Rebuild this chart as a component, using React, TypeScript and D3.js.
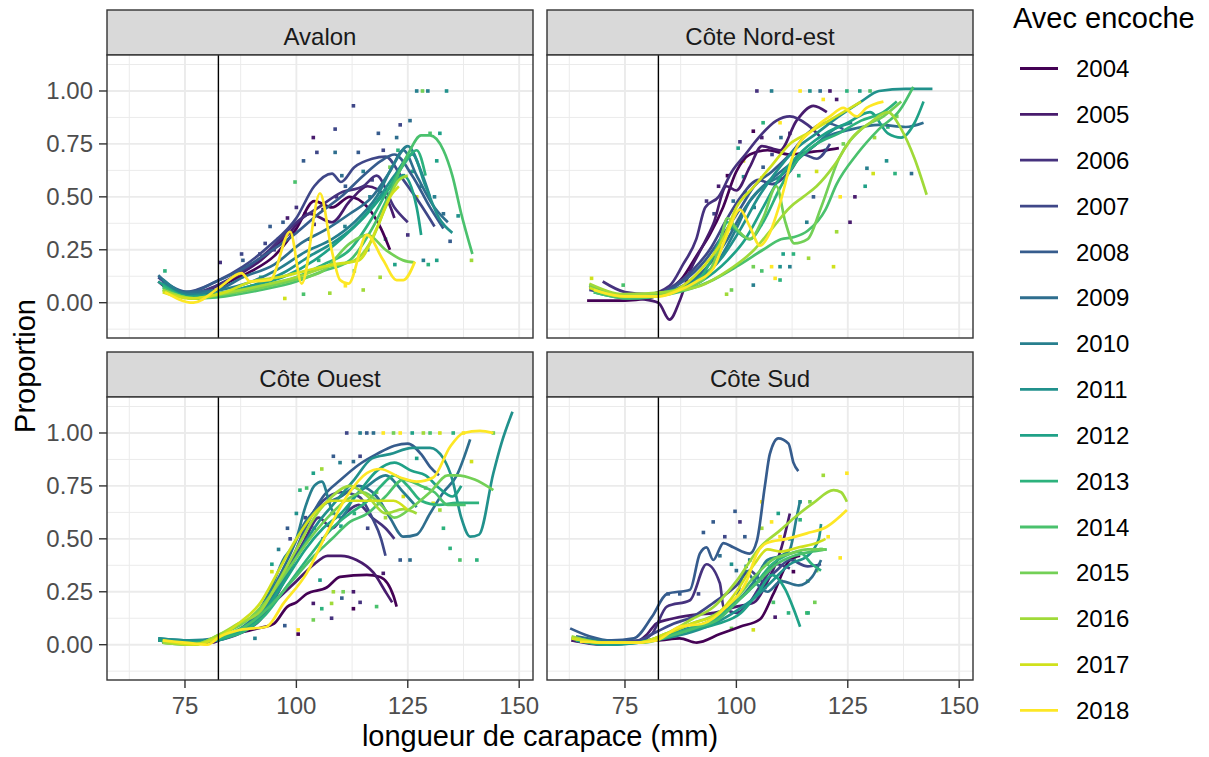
import React from "react";
import * as d3 from "d3";

// Proportion de homards avec encoche par longueur de carapace, par région et année

const years = ["2004", "2005", "2006", "2007", "2008", "2009", "2010", "2011", "2012", "2013", "2014", "2015", "2016", "2017", "2018"];
const regions = ["Avalon", "Côte Nord-est", "Côte Ouest", "Côte Sud"];
const xTicks = [75, 100, 125, 150];
const xMinor = [62.5, 87.5, 112.5, 137.5];
const yTicks = [0, 0.25, 0.5, 0.75, 1];
const yMinor = [-0.125, 0.125, 0.375, 0.625, 0.875, 1.125];
const legalSize = 82.5;

// one [mm, proportion] series per year, 2004 -> 2018
const avalonLines: number[][][] = [
  [[70, 0.08], [75, 0.03], [80, 0.04], [85, 0.1], [90, 0.15], [95, 0.22], [100, 0.35], [104, 0.48], [108, 0.45], [112, 0.5], [116, 0.45], [119, 0.35], [121, 0.25]],
  [[69, 0.1], [74, 0.04], [80, 0.06], [86, 0.12], [92, 0.2], [98, 0.32], [103, 0.42], [108, 0.38], [112, 0.48], [116, 0.55], [120, 0.5], [122, 0.4]],
  [[70, 0.09], [76, 0.04], [82, 0.08], [88, 0.15], [94, 0.25], [100, 0.38], [105, 0.45], [110, 0.52], [115, 0.55], [118, 0.6], [122, 0.45], [125, 0.38]],
  [[69, 0.12], [75, 0.05], [82, 0.1], [88, 0.17], [94, 0.27], [100, 0.4], [104, 0.55], [108, 0.61], [110, 0.57], [113, 0.64], [117, 0.68], [120, 0.69], [124, 0.58], [128, 0.46], [131, 0.36]],
  [[70, 0.1], [76, 0.05], [82, 0.1], [88, 0.16], [94, 0.24], [100, 0.33], [105, 0.42], [110, 0.5], [115, 0.6], [119, 0.67], [122, 0.7], [126, 0.6], [130, 0.45], [133, 0.35]],
  [[69, 0.13], [75, 0.05], [82, 0.06], [88, 0.12], [95, 0.18], [101, 0.28], [107, 0.35], [112, 0.42], [117, 0.5], [121, 0.62], [124, 0.72], [127, 0.6], [131, 0.45], [134, 0.38]],
  [[70, 0.11], [76, 0.04], [83, 0.06], [90, 0.1], [96, 0.16], [102, 0.24], [108, 0.3], [113, 0.38], [118, 0.5], [122, 0.66], [125, 0.74], [128, 0.62], [130, 0.5]],
  [[70, 0.09], [76, 0.03], [82, 0.04], [90, 0.08], [97, 0.14], [103, 0.22], [108, 0.28], [113, 0.36], [118, 0.48], [122, 0.6], [126, 0.7], [129, 0.55], [132, 0.4], [135, 0.33]],
  [[69, 0.1], [76, 0.03], [84, 0.05], [90, 0.08], [98, 0.13], [104, 0.2], [110, 0.3], [115, 0.4], [120, 0.52], [124, 0.6], [127, 0.45], [128, 0.32]],
  [[70, 0.08], [77, 0.02], [84, 0.04], [92, 0.08], [100, 0.12], [106, 0.18], [112, 0.25], [117, 0.4], [121, 0.55], [124, 0.65], [127, 0.72], [129, 0.6]],
  [[70, 0.07], [77, 0.02], [84, 0.03], [92, 0.06], [100, 0.1], [106, 0.15], [112, 0.2], [117, 0.35], [121, 0.52], [125, 0.7], [128, 0.79], [130, 0.79], [133, 0.72], [135, 0.6], [137, 0.42], [139.5, 0.23]],
  [[70, 0.06], [77, 0.02], [84, 0.04], [92, 0.07], [100, 0.11], [106, 0.15], [112, 0.28], [116, 0.32], [120, 0.25], [124, 0.2], [126.5, 0.19]],
  [[70, 0.06], [77, 0.02], [85, 0.05], [92, 0.08], [100, 0.12], [107, 0.17], [113, 0.2], [117, 0.3], [120, 0.45], [123, 0.58], [125, 0.6]],
  [[70, 0.05], [76, 0.02], [84, 0.05], [90, 0.1], [96, 0.12], [102, 0.15], [108, 0.18], [114, 0.2], [118, 0.35], [121, 0.5], [123, 0.55]],
  [[70.5, 0.05], [76.9, 0.0], [82.9, 0.075], [87.7, 0.14], [89.6, 0.1], [94.1, 0.107], [98.6, 0.335], [101.2, 0.09], [105.3, 0.517], [107.9, 0.25], [109.8, 0.107], [111.7, 0.09], [115.8, 0.32], [119.5, 0.2], [122.5, 0.107], [124, 0.107], [126.6, 0.194]],
];

const nordEstLines: number[][][] = [
  [[66.5, 0.01], [75, 0.01], [80, 0.02], [84, 0.05], [88, 0.12], [91, 0.22], [94, 0.32], [97, 0.45], [100, 0.62], [103, 0.7], [107, 0.72], [112, 0.7], [116, 0.71], [120, 0.72], [123, 0.73]],
  [[67, 0.07], [72, 0.04], [78, 0.02], [82.5, 0.0], [85, -0.08], [87.3, 0.01], [89.6, 0.15], [92, 0.25], [94.8, 0.37], [97.8, 0.55], [100, 0.53], [103, 0.64], [105.7, 0.74], [109.8, 0.72], [113.5, 0.86], [117.3, 0.93], [120.3, 0.9]],
  [[70, 0.1], [75, 0.05], [80, 0.04], [85, 0.08], [88, 0.18], [91, 0.3], [93, 0.45], [96, 0.5], [99, 0.62], [102, 0.7], [105, 0.78], [109, 0.86], [112, 0.88], [116, 0.84], [119, 0.78]],
  [[67, 0.06], [73, 0.04], [80, 0.03], [86, 0.08], [90, 0.15], [94, 0.25], [98, 0.4], [101, 0.5], [105, 0.58], [108, 0.56], [112, 0.62], [115, 0.7], [118, 0.68], [121, 0.75]],
  [[68, 0.07], [75, 0.03], [82, 0.04], [88, 0.1], [93, 0.2], [97, 0.32], [101, 0.45], [104, 0.55], [108, 0.62], [112, 0.7], [116, 0.8], [120, 0.85], [124, 0.82]],
  [[67, 0.08], [74, 0.03], [82, 0.04], [88, 0.08], [93, 0.16], [98, 0.3], [102, 0.45], [106, 0.55], [110, 0.62], [115, 0.7], [120, 0.78], [126, 0.82], [132, 0.84], [138, 0.83], [142, 0.85]],
  [[68, 0.07], [75, 0.03], [83, 0.04], [90, 0.1], [96, 0.2], [100, 0.35], [103, 0.48], [106, 0.55], [110, 0.6], [114, 0.68], [118, 0.75], [122, 0.82], [126, 0.85]],
  [[68, 0.06], [76, 0.03], [84, 0.05], [91, 0.1], [97, 0.22], [101, 0.35], [105, 0.5], [109, 0.62], [113, 0.72], [118, 0.8], [123, 0.88], [128, 0.95], [132, 1.0], [138, 1.01], [144, 1.01]],
  [[68, 0.05], [76, 0.02], [84, 0.04], [92, 0.1], [98, 0.2], [102, 0.3], [106, 0.45], [110, 0.6], [115, 0.72], [120, 0.8], [125, 0.85], [130, 0.9], [134, 0.8], [137, 0.78], [140, 0.85], [142, 0.95]],
  [[68, 0.06], [76, 0.03], [85, 0.05], [92, 0.12], [96, 0.28], [98, 0.38], [100, 0.34], [103, 0.3], [106, 0.38], [110, 0.55], [114, 0.68], [118, 0.75], [123, 0.8], [128, 0.86], [133, 0.9], [136, 0.95]],
  [[68, 0.05], [76, 0.02], [85, 0.04], [94, 0.1], [100, 0.17], [106, 0.25], [110, 0.3], [113, 0.31], [116, 0.34], [120, 0.44], [122.5, 0.56], [127, 0.7], [132, 0.82], [136.7, 0.91], [139.7, 1.02]],
  [[67, 0.08], [75, 0.03], [84, 0.05], [92, 0.1], [96, 0.25], [98, 0.4], [100, 0.35], [103, 0.3], [106, 0.4], [109, 0.55], [111, 0.38], [113, 0.28], [116, 0.3], [119, 0.45], [123, 0.68], [128, 0.82], [133, 0.88], [137, 0.95]],
  [[67, 0.09], [75, 0.04], [84, 0.05], [92, 0.08], [98, 0.15], [104, 0.25], [108, 0.35], [112, 0.45], [115, 0.5], [118, 0.55], [122, 0.65], [126, 0.78], [130, 0.85], [134, 0.9], [137, 0.82], [140, 0.68], [142.7, 0.51]],
  [[67, 0.07], [74, 0.03], [82, 0.03], [88, 0.08], [93, 0.18], [97, 0.3], [100, 0.45], [104, 0.55], [108, 0.65], [112, 0.75], [116, 0.8], [120, 0.85], [124, 0.9], [128, 0.95]],
  [[68, 0.06], [75, 0.03], [82.5, 0.03], [87.3, 0.06], [91, 0.1], [94.8, 0.16], [97.5, 0.3], [100.8, 0.44], [103, 0.36], [105.3, 0.27], [107.5, 0.33], [109.8, 0.47], [112.8, 0.7], [117.3, 0.82], [121, 0.88], [124, 0.92], [127, 0.88], [129.2, 0.92], [133, 0.95]],
];

const ouestLines: number[][][] = [
  [[69, 0.02], [75, 0.02], [80, 0.01], [84, 0.04], [88, 0.06], [92, 0.08], [95, 0.1], [98, 0.18], [100, 0.2], [102.3, 0.24], [106.8, 0.27], [109.8, 0.32], [115.8, 0.33], [118.8, 0.32], [121.8, 0.23], [122.5, 0.18]],
  [[70, 0.01], [76, 0.01], [81, 0.01], [85, 0.05], [90, 0.1], [95, 0.2], [100, 0.3], [104, 0.38], [107, 0.42], [110, 0.42], [113.5, 0.4], [117.3, 0.34], [120.3, 0.24], [121.5, 0.2]],
  [[70, 0.01], [76, 0.01], [82, 0.02], [87, 0.05], [92, 0.12], [96, 0.25], [99, 0.38], [102, 0.5], [105, 0.6], [108, 0.55], [111, 0.62], [114, 0.66], [117, 0.6], [120, 0.55], [122, 0.5]],
  [[70, 0.01], [77, 0.01], [82, 0.03], [87, 0.06], [92, 0.15], [96, 0.28], [100, 0.45], [103, 0.6], [106, 0.68], [110, 0.72], [114, 0.7], [117, 0.6], [119, 0.5], [120, 0.42]],
  [[70, 0.02], [77, 0.01], [83, 0.04], [88, 0.08], [93, 0.18], [98, 0.35], [102, 0.55], [106, 0.7], [110, 0.78], [114, 0.85], [118, 0.9], [122, 0.94], [125, 0.95], [128, 0.9], [130, 0.84], [132, 0.8]],
  [[69, 0.02], [76, 0.01], [82, 0.03], [88, 0.08], [93, 0.2], [98, 0.4], [102, 0.58], [106, 0.66], [110, 0.7], [114, 0.75], [118, 0.7], [121, 0.6], [124, 0.51], [127, 0.52], [130, 0.62], [133, 0.72], [136, 0.8], [139, 0.97]],
  [[69, 0.03], [76, 0.02], [82, 0.03], [86, 0.06], [90, 0.12], [94, 0.25], [97, 0.4], [100, 0.5], [102, 0.65], [104, 0.75], [105.7, 0.77], [107.9, 0.64], [110, 0.6], [113, 0.7], [116, 0.75], [120, 0.8], [124, 0.72], [127, 0.65]],
  [[69, 0.03], [76, 0.02], [82, 0.02], [87, 0.06], [92, 0.14], [97, 0.3], [101, 0.45], [105, 0.58], [109, 0.68], [113, 0.78], [117, 0.88], [121, 0.9], [126, 0.93], [130, 0.93], [133, 0.88], [135, 0.78], [137, 0.6], [139, 0.51], [141, 0.52], [144.2, 0.81], [146, 0.95], [148.5, 1.1]],
  [[69, 0.02], [76, 0.01], [82, 0.02], [88, 0.07], [93, 0.16], [98, 0.32], [102, 0.45], [106, 0.55], [110, 0.62], [114, 0.72], [118, 0.82], [122, 0.86], [126, 0.82], [129, 0.8], [132, 0.74], [135, 0.7], [137, 0.75]],
  [[70, 0.01], [77, 0.01], [83, 0.03], [88, 0.06], [93, 0.14], [98, 0.28], [103, 0.42], [108, 0.55], [112, 0.62], [116, 0.68], [119, 0.75], [122, 0.8], [125, 0.75], [128, 0.68], [132, 0.66], [136, 0.67], [141, 0.67]],
  [[70, 0.01], [77, 0.0], [83, 0.04], [88, 0.08], [94, 0.18], [99, 0.3], [104, 0.42], [108, 0.5], [112, 0.58], [116, 0.62], [120, 0.7], [124, 0.78], [128, 0.75], [131, 0.72], [134, 0.66], [138, 0.66]],
  [[70, 0.01], [77, 0.0], [83, 0.05], [88, 0.1], [93, 0.2], [98, 0.35], [103, 0.5], [107, 0.6], [111, 0.68], [115, 0.72], [119, 0.66], [122, 0.6], [126, 0.65], [130, 0.72], [134, 0.8], [136, 0.8], [140, 0.78], [144.2, 0.73]],
  [[70, 0.01], [77, 0.0], [82, 0.04], [87, 0.1], [92, 0.16], [96, 0.3], [100, 0.45], [104, 0.6], [108, 0.7], [112, 0.75], [116, 0.7], [120, 0.62], [124, 0.64], [127, 0.62]],
  [[70, 0.02], [77, 0.0], [82, 0.03], [87, 0.1], [92, 0.2], [96, 0.35], [100, 0.5], [104, 0.62], [108, 0.68], [112.7, 0.68], [117, 0.68], [121.8, 0.68], [124.8, 0.64]],
  [[70, 0.02], [75, 0.01], [80, 0.0], [83, 0.04], [87.4, 0.07], [93.3, 0.085], [97.1, 0.195], [102.3, 0.337], [106.8, 0.526], [111.3, 0.7], [115.8, 0.81], [118.8, 0.83], [123.3, 0.79], [127, 0.77], [130.7, 0.79], [134.5, 0.935], [137.5, 1.0], [141.2, 1.01], [144.2, 1.0]],
];

const sudLines: number[][][] = [
  [[63, 0.02], [70, 0.01], [76, 0.01], [80, 0.02], [82.1, 0.02], [87.3, 0.03], [91.1, 0.01], [96.3, 0.05], [100.8, 0.085], [105.3, 0.12], [108.3, 0.24], [112, 0.4], [114.3, 0.42]],
  [[63, 0.02], [70, 0.0], [77, 0.01], [80, 0.05], [82, 0.1], [85, 0.12], [90, 0.14], [95, 0.15], [100, 0.18], [104, 0.2], [107, 0.3], [110, 0.45], [112, 0.62]],
  [[64, 0.03], [70, 0.01], [77, 0.01], [81, 0.05], [84.4, 0.18], [89.6, 0.21], [93.3, 0.38], [96.3, 0.29], [97.1, 0.18], [100, 0.15], [103, 0.2], [106, 0.3], [109, 0.38], [112, 0.36]],
  [[63, 0.03], [70, 0.01], [78, 0.02], [82, 0.06], [86, 0.1], [90, 0.13], [95, 0.2], [100, 0.28], [103, 0.35], [106, 0.3], [109, 0.35], [112, 0.4], [116, 0.37], [119, 0.38]],
  [[62.7, 0.077], [67, 0.04], [72, 0.02], [77, 0.03], [81, 0.13], [84.4, 0.24], [89.6, 0.26], [91.8, 0.43], [93.3, 0.46], [94.8, 0.4], [97.1, 0.48], [99.3, 0.46], [103, 0.43], [104.6, 0.49], [106.4, 0.75], [107.5, 0.9], [109.4, 0.975], [111.7, 0.95], [112.8, 0.86], [113.9, 0.82]],
  [[64, 0.04], [70, 0.02], [77, 0.01], [82, 0.03], [88, 0.07], [93, 0.1], [97, 0.15], [100, 0.22], [102, 0.35], [104, 0.3], [107, 0.25], [110, 0.3], [114, 0.28], [117, 0.32], [119, 0.4]],
  [[64, 0.03], [70, 0.01], [78, 0.01], [84, 0.04], [90, 0.08], [95, 0.12], [100, 0.2], [104, 0.3], [107, 0.4], [110, 0.42], [112, 0.45], [113.5, 0.6], [114.3, 0.68]],
  [[64, 0.02], [71, 0.0], [78, 0.01], [84, 0.03], [90, 0.06], [95, 0.1], [100, 0.16], [104, 0.22], [108, 0.3], [112, 0.38], [116, 0.42], [118.5, 0.5], [119, 0.57]],
  [[64, 0.02], [71, 0.0], [78, 0.01], [84, 0.04], [90, 0.07], [96, 0.1], [101, 0.15], [105, 0.25], [108, 0.33], [111, 0.26], [113, 0.16], [114.3, 0.085]],
  [[64, 0.03], [71, 0.01], [78, 0.01], [84, 0.04], [90, 0.08], [95, 0.12], [100, 0.2], [104, 0.28], [108, 0.38], [111, 0.42], [114, 0.44], [117, 0.38], [119, 0.35]],
  [[64, 0.03], [71, 0.01], [79, 0.01], [85, 0.04], [91, 0.08], [96, 0.12], [101, 0.22], [105, 0.3], [109, 0.38], [113, 0.42], [117, 0.44], [120.3, 0.45]],
  [[63, 0.03], [70, 0.01], [78, 0.01], [84, 0.05], [90, 0.1], [95, 0.14], [100, 0.22], [104, 0.32], [108, 0.4], [112, 0.43], [116, 0.45], [120, 0.45]],
  [[63, 0.04], [70, 0.01], [78, 0.01], [84, 0.05], [90, 0.12], [95, 0.18], [100, 0.3], [105.3, 0.46], [109.8, 0.54], [113, 0.6], [117.3, 0.67], [121.8, 0.73], [123.5, 0.72], [124.8, 0.675]],
  [[63, 0.03], [70, 0.01], [78, 0.01], [84, 0.05], [90, 0.1], [96, 0.15], [100, 0.25], [104, 0.38], [107, 0.45], [110, 0.44], [114, 0.46], [118, 0.48], [120, 0.5]],
  [[64.9, 0.014], [72, 0.01], [78, 0.01], [82.1, 0.02], [87.3, 0.085], [92.6, 0.1], [97.8, 0.18], [102.3, 0.3], [104.6, 0.43], [106.8, 0.48], [111.3, 0.5], [115.8, 0.526], [120.3, 0.557], [124.8, 0.636]],
];

// observed proportions: [mm, proportion, year index]
const avalonPoints: number[][] = [
  [127, 1.0, 6], [128.3, 1.0, 11], [129.5, 1.0, 6], [133.7, 1.0, 7], [112.8, 0.93, 3], [108.7, 0.82, 3], [103.8, 0.78, 1],
  [118.4, 0.8, 4], [122.5, 0.78, 5], [125.5, 0.86, 5], [123.3, 0.84, 3], [132.2, 0.8, 8], [130, 0.8, 10], [104.6, 0.71, 3],
  [101.6, 0.67, 4], [108.7, 0.71, 5], [113.9, 0.71, 4], [119.5, 0.72, 3], [122.8, 0.72, 9], [131.5, 0.67, 8], [99.7, 0.57, 10],
  [110.2, 0.6, 5], [116.5, 0.5, 6], [121, 0.64, 11], [134.5, 0.29, 4], [136.3, 0.41, 7], [131.5, 0.2, 8], [128.5, 0.2, 6],
  [129.6, 0.18, 9], [139.3, 0.2, 12], [94.1, 0.36, 4], [100, 0.45, 2], [91.8, 0.23, 3], [87.7, 0.23, 3], [82.9, 0.19, 2],
  [70.5, 0.15, 9], [107.5, 0.045, 12], [97.4, 0.02, 13], [101.6, 0.04, 10], [118.8, 0.12, 12], [122.1, 0.18, 8], [110.9, 0.36, 6],
  [96, 0.3, 5], [98, 0.4, 1], [105, 0.2, 9], [113, 0.15, 11], [116, 0.25, 6], [120, 0.3, 9], [86, 0.05, 11], [90, 0.08, 13],
  [92, 0.12, 9], [103, 0.3, 3], [111, 0.08, 14], [115, 0.06, 12], [125, 0.32, 2], [127, 0.5, 13], [124, 0.6, 6],
  [88, 0.2, 4], [93, 0.28, 3], [95, 0.25, 2], [97, 0.38, 4], [99, 0.33, 6], [102, 0.42, 3], [104, 0.37, 2], [106, 0.44, 1],
  [109, 0.5, 2], [111, 0.55, 4], [115, 0.62, 6], [117, 0.58, 3], [126, 0.62, 8], [128, 0.55, 7], [131, 0.5, 6], [133, 0.42, 5],
];

const nordEstPoints: number[][] = [
  [104.6, 1.0, 2], [107.9, 1.0, 6], [114.3, 1.0, 14], [116.5, 1.0, 7], [118.8, 1.0, 5], [121, 1.0, 1], [124.8, 1.0, 9],
  [127.7, 1.0, 8], [130, 1.0, 10], [119.5, 0.96, 14], [122.5, 0.96, 1], [106, 0.85, 9], [109.8, 0.85, 14], [103.8, 0.81, 0],
  [100.8, 0.76, 2], [105.7, 0.78, 1], [100.4, 0.73, 8], [101.6, 0.67, 13], [101.6, 0.595, 7], [105.7, 0.59, 14], [109.8, 0.59, 6],
  [93.3, 0.48, 2], [99.3, 0.48, 5], [117.3, 0.5, 4], [123.3, 0.5, 14], [126.6, 0.5, 1], [128.9, 0.55, 8], [129.3, 0.635, 6],
  [130.7, 0.61, 13], [135.6, 0.61, 9], [139.3, 0.61, 5], [133.7, 0.67, 7], [125.5, 0.38, 1], [115.8, 0.38, 6], [122.5, 0.335, 12],
  [103.8, 0.17, 11], [105.7, 0.15, 10], [107.9, 0.17, 14], [109.8, 0.17, 7], [112, 0.17, 6], [116.2, 0.21, 12], [121.8, 0.17, 13],
  [110.5, 0.23, 8], [112.8, 0.23, 9], [103.8, 0.083, 6], [109.8, 0.107, 9], [108.7, 0.115, 14], [97.8, 0.04, 12], [98.9, 0.06, 11],
  [67.5, 0.115, 13], [74.6, 0.083, 10],
  [95, 0.42, 3], [96, 0.55, 1], [98, 0.6, 0], [99, 0.35, 7], [102, 0.52, 9], [104, 0.45, 6], [106, 0.64, 4], [108, 0.7, 3],
  [110, 0.78, 5], [112, 0.8, 2], [114, 0.6, 9], [118, 0.62, 13], [120, 0.72, 8], [124, 0.75, 11], [131, 0.78, 12], [134, 0.83, 9],
  [136, 0.88, 11],
];

const ouestPoints: number[][] = [
  [111.3, 1, 3], [114.3, 1, 6], [115.8, 1, 4], [117.3, 1, 5], [119.5, 1, 14], [121.8, 1, 11], [123.3, 1, 14], [126, 1, 8],
  [128.5, 1, 12], [130, 1, 10], [132.2, 1, 13], [135.2, 1, 9], [137.5, 1, 14], [144.2, 1, 11],
  [108.3, 0.89, 4], [109.8, 0.86, 6], [112.8, 0.865, 5], [114.3, 0.89, 3], [105.7, 0.83, 12], [103.8, 0.81, 8], [102.3, 0.74, 10],
  [100.8, 0.73, 9], [98.6, 0.5, 3], [101.6, 0.51, 14], [94.5, 0.38, 8], [94.5, 0.345, 13], [105.3, 0.305, 8], [108.3, 0.25, 12],
  [110.5, 0.25, 11], [112.8, 0.25, 1], [110.2, 0.22, 4], [107.9, 0.195, 12], [103.8, 0.195, 1], [105.7, 0.17, 9], [103.8, 0.117, 11],
  [107.9, 0.125, 2], [112.8, 0.17, 0], [114.3, 0.2, 2], [118, 0.18, 10], [119.5, 0.337, 1], [123.3, 0.4, 4], [125.5, 0.4, 5],
  [134.5, 0.455, 9], [136.7, 0.4, 10], [140.5, 0.4, 9], [139.3, 0.865, 13], [132.2, 0.636, 12], [130.7, 0.668, 13],
  [100.4, 0.07, 14], [100.4, 0.05, 0], [97.4, 0.09, 4], [90.7, 0.03, 6],
  [96, 0.45, 6], [98, 0.55, 4], [100, 0.62, 7], [102, 0.6, 3], [104, 0.55, 5], [106, 0.5, 2], [108, 0.62, 10], [110, 0.56, 8],
  [113, 0.62, 9], [116, 0.55, 3], [118, 0.72, 11], [120, 0.6, 12], [124, 0.7, 13], [127, 0.88, 8], [129, 0.74, 11], [133, 0.55, 9],
];

const sudPoints: number[][] = [
  [124.8, 0.81, 14], [119.5, 0.8, 12], [105.7, 0.675, 14], [116.5, 0.675, 11], [114.3, 0.675, 7], [99.7, 0.63, 4], [109.4, 0.62, 8],
  [107.9, 0.58, 14], [100.8, 0.58, 2], [94.8, 0.58, 4], [114.3, 0.59, 9], [105.7, 0.55, 12], [92.6, 0.53, 4], [97.4, 0.51, 3],
  [101.9, 0.51, 4], [109.8, 0.51, 14], [120.6, 0.51, 14], [123.3, 0.41, 14], [98.9, 0.38, 7], [96.3, 0.42, 5], [102.2, 0.37, 7],
  [112.8, 0.345, 0], [106.4, 0.27, 3], [108.3, 0.2, 10], [117.6, 0.2, 11], [108.7, 0.13, 1], [111.7, 0.15, 9], [115.8, 0.15, 10],
  [103.8, 0.07, 13], [95.2, 0.117, 2], [91.5, 0.24, 3], [84.7, 0.24, 4], [87.3, 0.24, 4], [98.9, 0.077, 11], [116.1, 0.15, 9],
  [100, 0.35, 5], [103, 0.4, 6], [105, 0.3, 8], [107, 0.38, 10], [110, 0.3, 11], [112, 0.5, 7], [113, 0.4, 9], [116, 0.3, 10],
  [118, 0.35, 11], [119, 0.45, 10],
];

const regionLines = [avalonLines, nordEstLines, ouestLines, sudLines];
const regionPoints = [avalonPoints, nordEstPoints, ouestPoints, sudPoints];

const FONT = "'Liberation Sans', Arial, sans-serif";
const panelW = 426;
const panelH = 283;
const stripH = 45;
const colX = [107, 547];
const rowY = [55, 397];

const color = (i: number) => d3.interpolateViridis(i / (years.length - 1));

const App: React.FC = () => {
  const x0 = d3.scaleLinear().domain([57.5, 57.5 + panelW / 4.456]).range([0, panelW]);
  const y0 = d3.scaleLinear().domain([1.17 - panelH / 211.7, 1.17]).range([panelH, 0]);
  const line = d3
    .line<number[]>()
    .x((d) => x0(d[0]))
    .y((d) => y0(d[1]))
    .curve(d3.curveMonotoneX);

  const legendY = (i: number) => 68.5 + i * 45.85;

  return (
    <svg width={1209} height={757} style={{ position: "absolute", left: 0, top: 0, background: "#fff" }} fontFamily={FONT}>
      <defs>
        <clipPath id="panelClip">
          <rect x={0} y={0} width={panelW} height={panelH} />
        </clipPath>
      </defs>
      {regions.map((name, r) => {
        const px = colX[r % 2];
        const py = rowY[Math.floor(r / 2)];
        const bottomRow = r >= 2;
        const leftCol = r % 2 === 0;
        return (
          <g key={name} transform={`translate(${px},${py})`}>
            {/* strip */}
            <rect x={0} y={-stripH} width={panelW} height={stripH} fill="#d9d9d9" stroke="#333333" strokeWidth={1.4} />
            <text x={panelW / 2} y={-stripH + 35} textAnchor="middle" fontSize={24} fill="#1a1a1a">
              {name}
            </text>
            <rect x={0} y={0} width={panelW} height={panelH} fill="#fff" />
            {/* grid */}
            {yMinor.map((v) => (
              <line key={"ym" + v} x1={0} x2={panelW} y1={y0(v)} y2={y0(v)} stroke="#ebebeb" strokeWidth={1} />
            ))}
            {xMinor.map((v) => (
              <line key={"xm" + v} x1={x0(v)} x2={x0(v)} y1={0} y2={panelH} stroke="#ebebeb" strokeWidth={1} />
            ))}
            {yTicks.map((v) => (
              <line key={"y" + v} x1={0} x2={panelW} y1={y0(v)} y2={y0(v)} stroke="#ebebeb" strokeWidth={1.9} />
            ))}
            {xTicks.map((v) => (
              <line key={"x" + v} x1={x0(v)} x2={x0(v)} y1={0} y2={panelH} stroke="#ebebeb" strokeWidth={1.9} />
            ))}
            <g clipPath="url(#panelClip)">
              {regionPoints[r].map((p, k) => (
                <rect key={"p" + k} x={x0(p[0]) - 1.8} y={y0(p[1]) - 1.8} width={3.6} height={3.6} fill={color(p[2])} />
              ))}
              {regionLines[r].map((s, k) => (
                <path key={"l" + k} d={line(s) ?? ""} fill="none" stroke={color(k)} strokeWidth={2.7} strokeLinejoin="round" />
              ))}
              <line x1={x0(legalSize)} x2={x0(legalSize)} y1={0} y2={panelH} stroke="#000" strokeWidth={1.4} />
            </g>
            <rect x={0} y={0} width={panelW} height={panelH} fill="none" stroke="#333333" strokeWidth={1.4} />
            {/* axes */}
            {leftCol &&
              yTicks.map((v) => (
                <g key={"yt" + v}>
                  <line x1={-8} x2={0} y1={y0(v)} y2={y0(v)} stroke="#333333" strokeWidth={1.4} />
                  <text x={-14} y={y0(v)} dy="0.35em" textAnchor="end" fontSize={24} fill="#4d4d4d">
                    {v.toFixed(2)}
                  </text>
                </g>
              ))}
            {bottomRow &&
              xTicks.map((v) => (
                <g key={"xt" + v}>
                  <line x1={x0(v)} x2={x0(v)} y1={panelH} y2={panelH + 8} stroke="#333333" strokeWidth={1.4} />
                  <text x={x0(v)} y={panelH + 34} textAnchor="middle" fontSize={24} fill="#4d4d4d">
                    {v}
                  </text>
                </g>
              ))}
          </g>
        );
      })}
      {/* axis titles */}
      <text x={540} y={746} textAnchor="middle" fontSize={29} fill="#000">
        longueur de carapace (mm)
      </text>
      <text transform="translate(35,366) rotate(-90)" textAnchor="middle" fontSize={29} fill="#000">
        Proportion
      </text>
      {/* legend */}
      <text x={1013} y={28} fontSize={29} fill="#000">
        Avec encoche
      </text>
      {years.map((yr, i) => (
        <g key={yr}>
          <line x1={1020} x2={1058} y1={legendY(i)} y2={legendY(i)} stroke={color(i)} strokeWidth={2.8} />
          <text x={1076} y={legendY(i)} dy="0.36em" fontSize={24} fill="#000">
            {yr}
          </text>
        </g>
      ))}
    </svg>
  );
};

export default App;
